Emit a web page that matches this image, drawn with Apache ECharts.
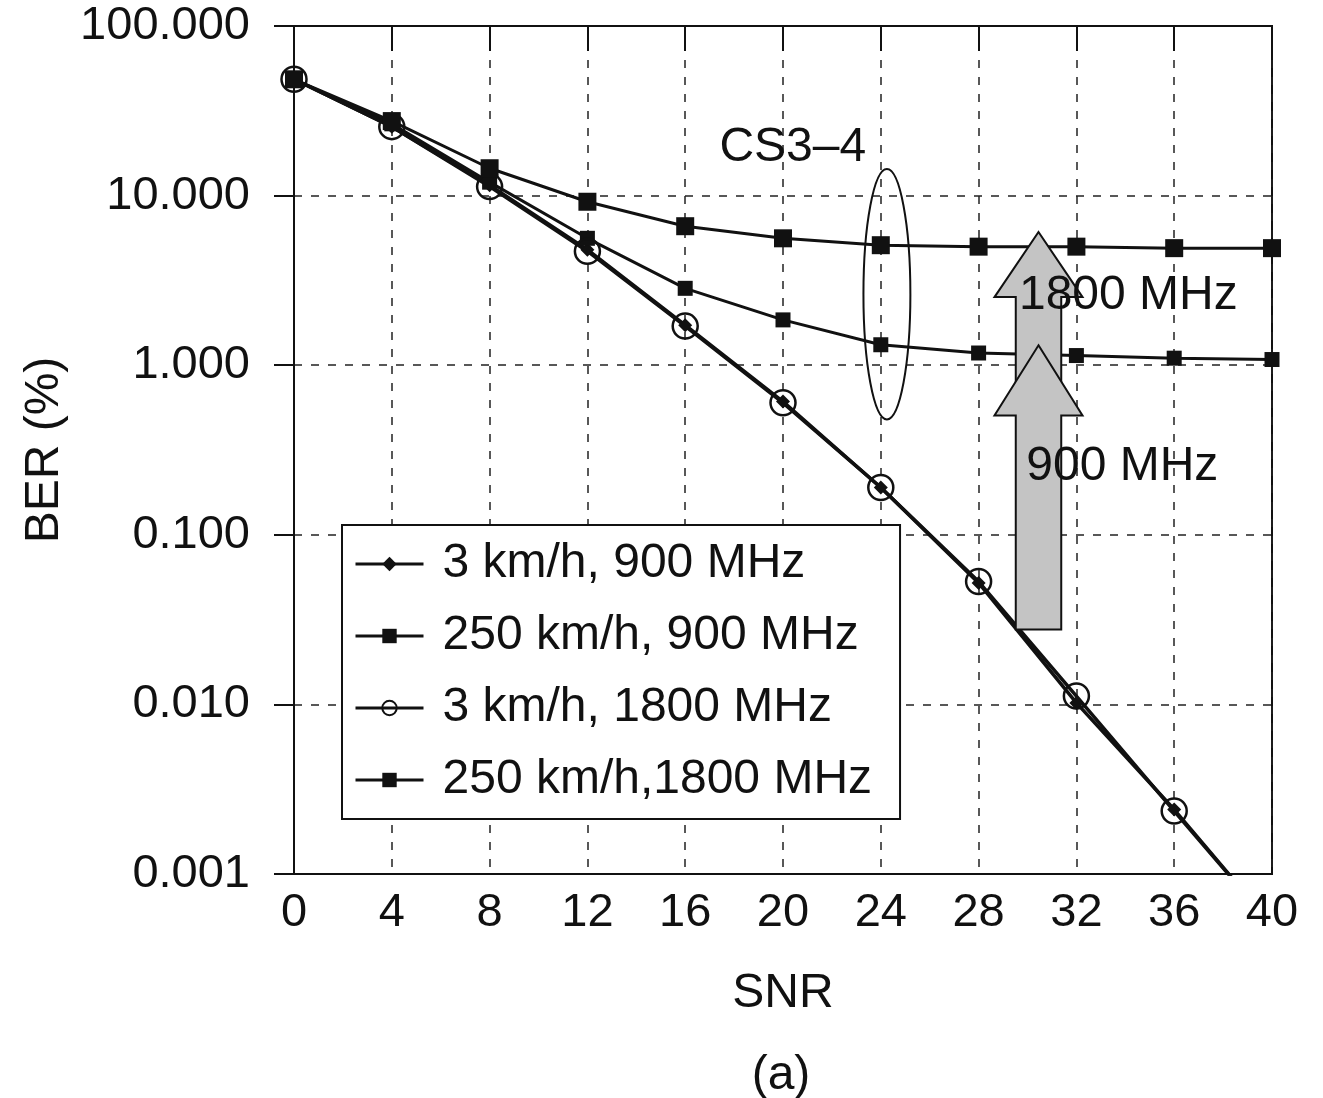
<!DOCTYPE html>
<html>
<head>
<meta charset="utf-8">
<script src="https://cdn.jsdelivr.net/npm/echarts@6/dist/echarts.min.js"></script>
<style>
  html, body { margin: 0; background: #fff; }
  #chart { width: 1323px; height: 1098px; }
</style>
</head>
<body>
<div id="chart"></div>
<script>
// SNR steps and BER (%)
const snr = [0, 4, 8, 12, 16, 20, 24, 28, 32, 36, 40];
const ber3kmh900 = [48.5, 25.5, 11.5, 4.8, 1.72, 0.61, 0.19, 0.052, 0.0102, 0.0024, 0.0005];
const ber250kmh900 = [48.5, 26.5, 12.0, 5.6, 2.84, 1.85, 1.32, 1.18, 1.14, 1.10, 1.08];
const ber3kmh1800 = [48.5, 25.5, 11.3, 4.7, 1.70, 0.60, 0.19, 0.053, 0.0112, 0.00235, 0.0005];
const ber250kmh1800 = [48.5, 27.5, 14.5, 9.2, 6.6, 5.6, 5.1, 5.0, 5.0, 4.9, 4.9];
const seriesNames = ['3 km/h, 900 MHz', '250 km/h, 900 MHz', '3 km/h, 1800 MHz', '250 km/h,1800 MHz'];

// annotation anchors, in [SNR, BER] units
const cs34At = [17.4, 19.2];
const ellipseAt = [24.25, 2.62];
const arrowSnr = 30.45;
const arrow1800 = { tip: 6.1, head: 2.52, tail: 0.8 };
const arrow900 = { tip: 1.31, head: 0.506, tail: 0.0276 };
const label1800At = [29.65, 2.58];
const label900At = [29.95, 0.251];

const FONT = 'Liberation Sans, Arial, Helvetica, sans-serif';
const INK = '#111';

function pairs(ys) {
  return snr.map((x, i) => [x, ys[i]]);
}

const chart = echarts.init(document.getElementById('chart'));

const dashed = { lineStyle: { type: [8, 9], color: '#222', width: 1.5 } };

const option = {
  animation: false,
  backgroundColor: '#fff',
  grid: {
    left: 294, right: 51, top: 26, bottom: 224,
    show: true, borderColor: INK, borderWidth: 2
  },
  xAxis: [
    {
      type: 'value', min: 0, max: 40, interval: 4,
      name: 'SNR', nameLocation: 'middle', nameGap: 96,
      nameTextStyle: { fontSize: 48, fontFamily: FONT, color: INK },
      axisLine: { lineStyle: { color: INK, width: 2 } },
      axisTick: { show: false },
      axisLabel: { fontSize: 47, fontFamily: FONT, color: INK, margin: 16 },
      splitLine: Object.assign({ show: true }, dashed)
    },
    {
      type: 'value', min: 0, max: 40, interval: 4, position: 'top',
      axisLine: { lineStyle: { color: INK, width: 2 } },
      axisTick: { show: true, inside: true, length: 25, lineStyle: { color: INK, width: 2 } },
      axisLabel: { show: false },
      splitLine: { show: false }
    }
  ],
  yAxis: {
    type: 'log', logBase: 10, min: 0.001, max: 100,
    name: 'BER (%)', nameLocation: 'middle', nameGap: 222,
    nameTextStyle: { fontSize: 48, fontFamily: FONT, color: INK },
    axisLine: { lineStyle: { color: INK, width: 2 } },
    axisTick: { show: true, length: 20, lineStyle: { color: INK, width: 2 } },
    axisLabel: {
      fontSize: 47, fontFamily: FONT, color: INK, margin: 44,
      formatter: v => Number(v).toFixed(3)
    },
    splitLine: Object.assign({ show: true }, dashed)
  },
  legend: {
    orient: 'vertical', left: 342, top: 525,
    padding: [14, 28, 14, 12],
    itemGap: 22, itemWidth: 68, itemHeight: 18,
    borderColor: INK, borderWidth: 2, backgroundColor: '#fff',
    lineStyle: { width: 3, color: INK },
    textStyle: { fontSize: 48, fontFamily: FONT, color: INK, lineHeight: 50, padding: [0, 0, 0, 14] },
    data: seriesNames
  },
  series: [
    {
      name: seriesNames[0], type: 'line', data: pairs(ber3kmh900),
      symbol: 'diamond', symbolSize: 14, showAllSymbol: true,
      lineStyle: { color: INK, width: 3.5 }, itemStyle: { color: INK }
    },
    {
      name: seriesNames[1], type: 'line', data: pairs(ber250kmh900),
      symbol: 'rect', symbolSize: 15, showAllSymbol: true,
      lineStyle: { color: INK, width: 3 }, itemStyle: { color: INK }
    },
    {
      name: seriesNames[2], type: 'line', data: pairs(ber3kmh1800),
      symbol: 'circle', symbolSize: 25, showAllSymbol: true,
      lineStyle: { color: INK, width: 3.5 },
      itemStyle: { color: 'rgba(255,255,255,0)', borderColor: INK, borderWidth: 2.5 }
    },
    {
      name: seriesNames[3], type: 'line', data: pairs(ber250kmh1800),
      symbol: 'rect', symbolSize: 18, showAllSymbol: true,
      lineStyle: { color: INK, width: 3 }, itemStyle: { color: INK }
    }
  ]
};

chart.setOption(option);

const px = p => chart.convertToPixel({ seriesIndex: 0 }, p);

// block arrow pointing up, drawn through the axes
function arrowPoints(a) {
  const headHalf = 1.8, shaftHalf = 0.93;
  return [
    [arrowSnr, a.tip],
    [arrowSnr + headHalf, a.head],
    [arrowSnr + shaftHalf, a.head],
    [arrowSnr + shaftHalf, a.tail],
    [arrowSnr - shaftHalf, a.tail],
    [arrowSnr - shaftHalf, a.head],
    [arrowSnr - headHalf, a.head]
  ].map(px);
}

const ec = px(ellipseAt);
const ex = px([ellipseAt[0] + 0.96, ellipseAt[1]]);
const ey = px([ellipseAt[0], ellipseAt[1] * Math.pow(10, 0.738)]);
const cs = px(cs34At);
const l18 = px(label1800At);
const l9 = px(label900At);

const arrowStyle = { fill: '#c4c4c4', stroke: INK, lineWidth: 2 };
const textStyle = (t, p, align) => ({
  type: 'text', z: 20, x: p[0], y: p[1],
  style: { text: t, fontSize: 48, fontFamily: FONT, fill: INK, align: align, verticalAlign: 'middle' }
});

chart.setOption({
  graphic: [
    {
      type: 'ellipse', z: 10,
      shape: { cx: ec[0], cy: ec[1], rx: Math.abs(ex[0] - ec[0]), ry: Math.abs(ec[1] - ey[1]) },
      style: { fill: 'none', stroke: INK, lineWidth: 2 }
    },
    { type: 'polygon', z: 12, shape: { points: arrowPoints(arrow1800) }, style: arrowStyle },
    { type: 'polygon', z: 13, shape: { points: arrowPoints(arrow900) }, style: arrowStyle },
    textStyle('CS3–4', cs, 'left'),
    textStyle('1800 MHz', l18, 'left'),
    textStyle('900 MHz', l9, 'left'),
    textStyle('(a)', [781, 1076], 'center')
  ]
});
</script>
</body>
</html>
